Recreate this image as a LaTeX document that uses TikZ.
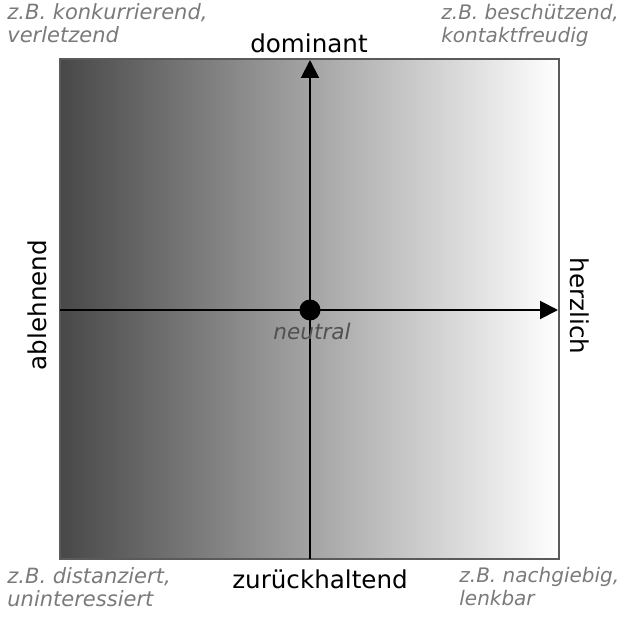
\documentclass[tikz,border=0pt]{standalone}
\usepackage{fontspec}
\setmainfont{DejaVu Sans}
\usetikzlibrary{arrows.meta}
\definecolor{hint}{HTML}{7A7A7A}
\definecolor{neut}{HTML}{505050}
\definecolor{dark}{HTML}{484848}
\definecolor{frame}{HTML}{5A5A5A}
\begin{document}
\begin{tikzpicture}[x=0.5pt,y=-0.5pt,
  axislabel/.style={font=\fontsize{12.3}{14}\selectfont, inner sep=0pt, text=black},
  hinttext/.style={font=\fontsize{10}{11.5}\selectfont\itshape, text=hint, align=left, inner sep=0pt, anchor=north west},
  hintwide/.style={hinttext, font=\fontsize{10.5}{11.5}\selectfont\itshape},
  axisline/.style={line width=1pt, draw=black},
  arr/.style={-{Triangle[length=9pt,width=9pt]}}]
\useasboundingbox (0,0) rectangle (620,620);
\shade[left color=dark, right color=white] (60,59) rectangle (559,559);
\draw[frame, line width=1pt] (60,59) rectangle (559,559);
\coordinate (bot) at (310,559);
\coordinate (top) at (310,60);
\coordinate (lft) at (60,310);
\coordinate (rgt) at (558,310);
\node[circle, fill=black, minimum size=10.5pt, inner sep=0pt] (c) at (310,310) {};
\draw[axisline, arr] (bot) -- (top);
\draw[axisline, arr] (lft) -- (rgt);
\node[font=\fontsize{10.8}{12}\selectfont\itshape, text=neut, inner sep=0pt] (neutral) at (312,331) {neutral};
\node[axislabel] (dom) at (309,43) {dominant};
\node[axislabel] (zur) at (320,579) {zurückhaltend};
\node[axislabel, rotate=90] (abl) at (37,305) {ablehnend};
\node[axislabel, rotate=-90] (herz) at (580,306) {herzlich};
\node[hintwide] (tl) at (7,3) {z.B. konkurrierend,\\verletzend};
\node[hinttext] (tr) at (441,4) {z.B. beschützend,\\kontaktfreudig};
\node[hintwide] (bl) at (7,567) {z.B. distanziert,\\uninteressiert};
\node[hinttext] (br) at (459,567) {z.B. nachgiebig,\\lenkbar};
\end{tikzpicture}
\end{document}
